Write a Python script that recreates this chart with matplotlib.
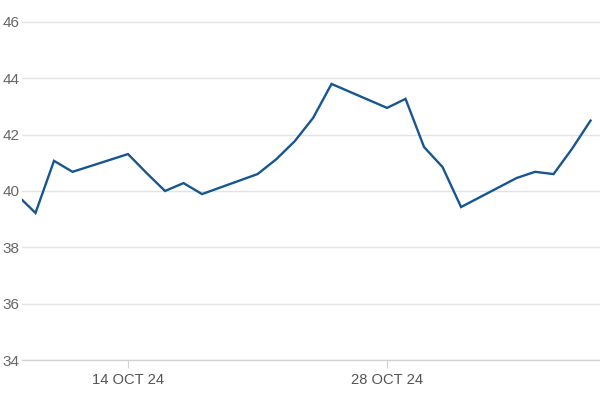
import matplotlib
matplotlib.use("Agg")
import matplotlib.pyplot as plt
import matplotlib.dates as mdates
import numpy as np

# daily closes (trading days only)
dates = ["2024-10-08", "2024-10-09", "2024-10-10", "2024-10-11",
         "2024-10-14", "2024-10-15", "2024-10-16", "2024-10-17", "2024-10-18",
         "2024-10-21", "2024-10-22", "2024-10-23", "2024-10-24", "2024-10-25",
         "2024-10-28", "2024-10-29", "2024-10-30", "2024-10-31", "2024-11-01",
         "2024-11-04", "2024-11-05", "2024-11-06", "2024-11-07", "2024-11-08"]
values = [39.86, 39.22, 41.07, 40.68,
          41.31, 40.64, 40.00, 40.28, 39.89,
          40.60, 41.12, 41.76, 42.59, 43.80,
          42.95, 43.27, 41.56, 40.85, 39.43,
          40.46, 40.68, 40.60, 41.50, 42.50]

tick_dates = ["2024-10-14", "2024-10-28"]
tick_labels = ["14 OCT 24", "28 OCT 24"]
y_ticks = [34, 36, 38, 40, 42, 44, 46]

x = np.array(dates, dtype="datetime64[D]")
xt = np.array(tick_dates, dtype="datetime64[D]")

plt.rcParams["font.family"] = ["Liberation Sans", "DejaVu Sans"]

fig = plt.figure(figsize=(6, 4), dpi=100)
ax = fig.add_axes([22 / 600, 0.1, 1 - 22 / 600, 0.9])

ax.plot(x, values, color="#175690", linewidth=1.7, solid_joinstyle="miter")

# x range: a little after the first point to just past the last one
x0 = mdates.date2num(x[0]) + 0.27
x1 = mdates.date2num(x[-1]) + 0.51
ax.set_xlim(x0, x1)
ax.set_ylim(34, 46.78)

ax.set_yticks(y_ticks)
ax.set_yticklabels([str(v) for v in y_ticks])
ax.set_xticks(mdates.date2num(xt))
ax.set_xticklabels(tick_labels)

ax.grid(axis="y", color="#e3e3e3", linewidth=1)
ax.set_axisbelow(True)
for side in ["top", "right", "left"]:
    ax.spines[side].set_visible(False)
ax.spines["bottom"].set_color("#cfd3d8")
ax.spines["bottom"].set_linewidth(1)

ax.tick_params(axis="y", length=0, pad=2, labelsize=11, labelcolor="#666666")
ax.tick_params(axis="x", length=6, color="#cfd3d8", pad=3, labelsize=10.6,
               labelcolor="#555555")

fig.savefig("out.png", dpi=100)
